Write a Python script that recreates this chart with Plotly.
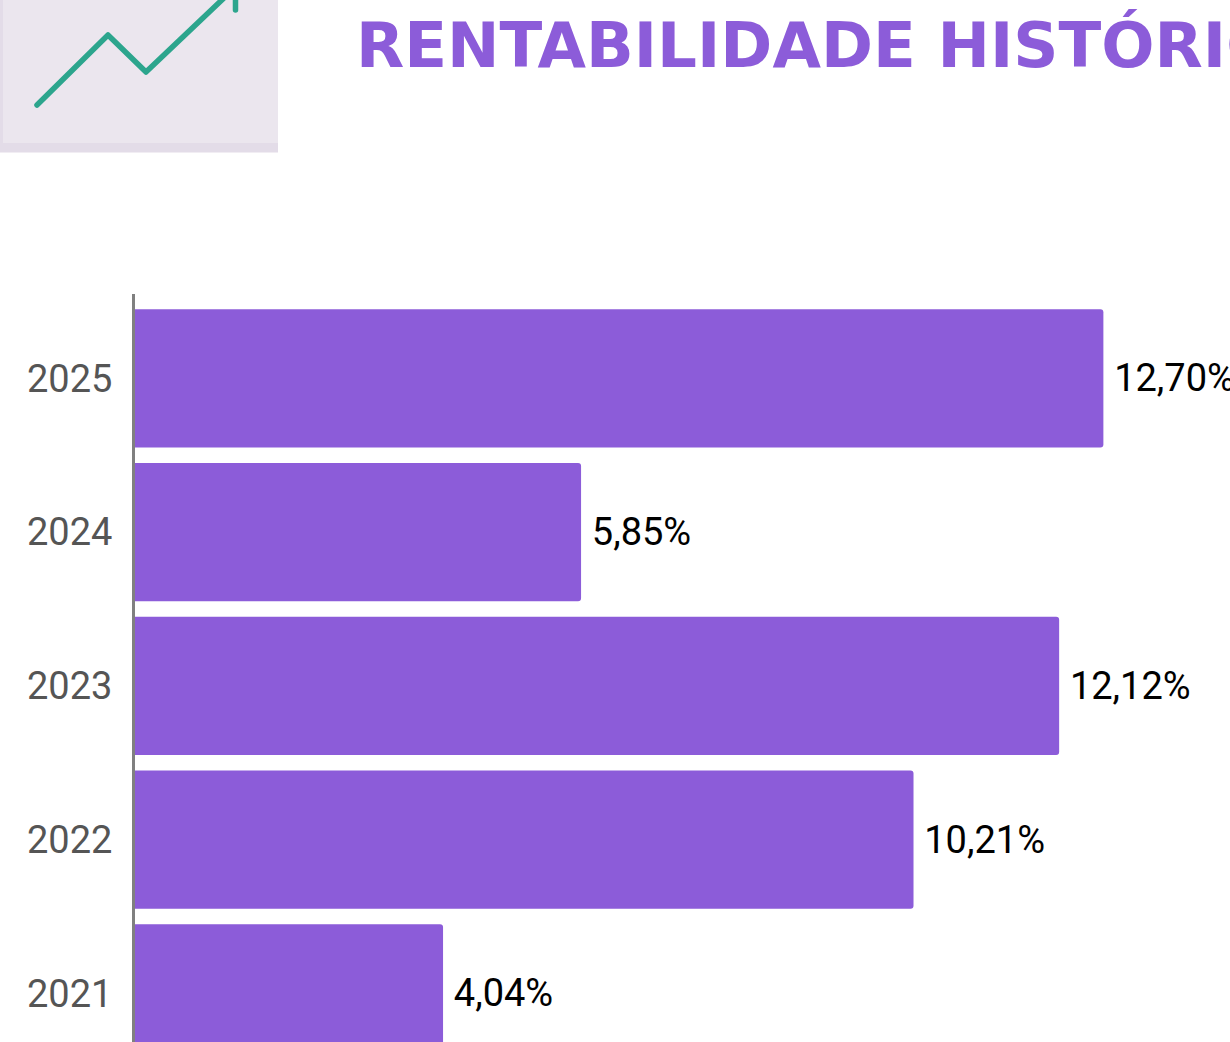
import plotly.graph_objects as go

W, H = 1230, 1042
years = ["2025", "2024", "2023", "2022", "2021"]
returns = [12.70, 5.85, 12.12, 10.21, 4.04]
labels = ["12,70%", "5,85%", "12,12%", "10,21%", "4,04%"]
title_text = "RENTABILIDADE HISTÓRICA"

PURPLE = "#8C5CD9"

def px(x):
    return x / W

def py(y):
    return 1 - y / H

# The plot area fills the page, so paper coordinates map directly to pixels.
def rect(x0, y0, x1, y1, color):
    return dict(type="rect", xref="paper", yref="paper", layer="below",
                x0=px(x0), x1=px(x1), y0=py(y0), y1=py(y1),
                fillcolor=color, line_width=0)

def poly(points, color, width):
    d = "M " + " L ".join(f"{px(x):.5f},{py(y):.5f}" for x, y in points)
    return dict(type="path", xref="paper", yref="paper", path=d,
                line=dict(color=color, width=width))

fig = go.Figure(go.Bar(
    x=returns, y=years, orientation="h", width=0.9,
    marker=dict(color=PURPLE, cornerradius=3, line_width=0),
    text=labels, texttemplate="\u2009%{text}", textposition="outside", cliponaxis=False,
    textfont=dict(family="Roboto", size=38, color="#000000"),
    hoverinfo="skip",
))

fig.update_layout(
    width=W, height=H, paper_bgcolor="white", plot_bgcolor="rgba(0,0,0,0)",
    margin=dict(l=0, r=0, t=0, b=0, pad=0), showlegend=False, bargap=0.1,
    title=dict(text=f"<b>{title_text}</b>", xref="container", yref="container",
               x=356 / W, xanchor="left", y=1 - 45 / H, yanchor="middle",
               font=dict(family="DejaVu Sans", size=62.7, color=PURPLE)),
    shapes=[
        rect(0, -10, 278, 152.5, "#E3DCE8"),
        rect(3, -10, 278, 143, "#EBE6EE"),
        poly([(37, 105), (108, 35), (146, 72), (225, -3)], "#2CA58D", 5.5),
        poly([(235.5, -5), (235.5, 10)], "#2CA58D", 5.5),
    ],
)
fig.update_xaxes(domain=[135 / W, 1], range=[0, 1095 / 76.25], visible=False, fixedrange=True)
fig.update_yaxes(
    domain=[0, 1 - 294 / H], type="category", categoryorder="array", categoryarray=years,
    range=[4.316, -0.549], showline=True, linecolor="#808080", linewidth=3,
    showgrid=False, zeroline=False, ticks="", ticklabelstandoff=12,
    tickfont=dict(family="Roboto", size=38, color="#555555"), fixedrange=True,
)

fig.write_html("out.html", config={"displayModeBar": False},
               post_script=("document.body.style.margin='0';document.body.style.overflow='hidden';"
                            "document.querySelectorAll('.shapelayer path').forEach(function(p){"
                            "p.style.strokeLinecap='round';p.style.strokeLinejoin='round';});"))
